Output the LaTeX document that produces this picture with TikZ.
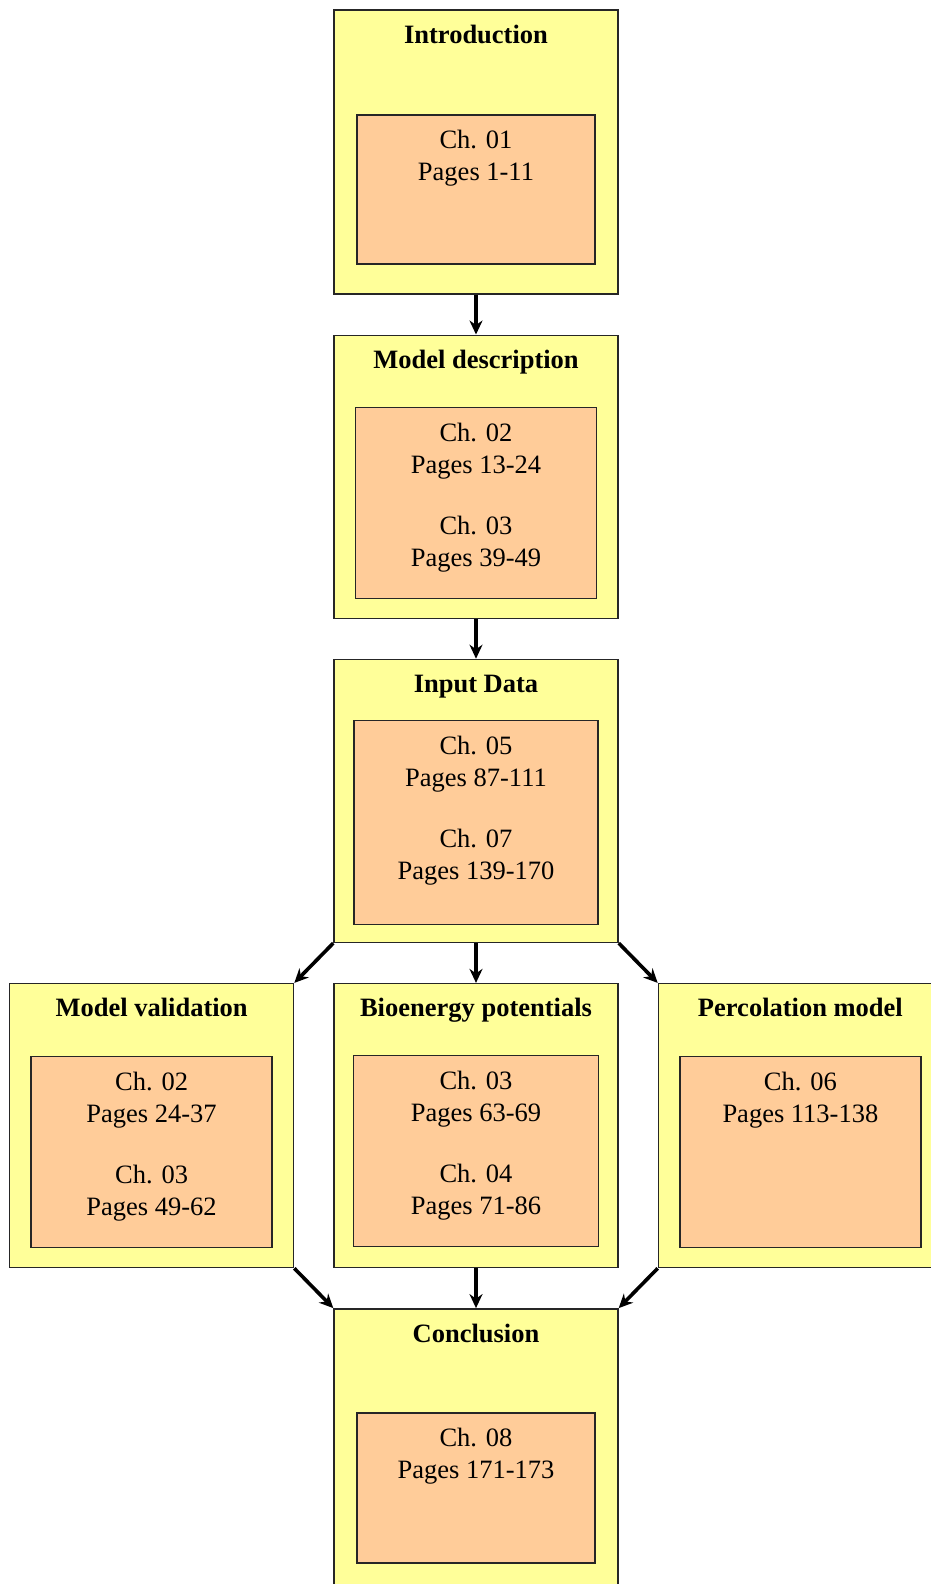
\documentclass[tikz,border=0pt]{standalone}
\usepackage{fontspec}
\setmainfont{Liberation Serif}
\usetikzlibrary{positioning, arrows.meta}
\definecolor{secyel}{RGB}{255,255,153}
\definecolor{chorange}{RGB}{255,204,153}
\tikzset{
  sect/.style={draw=black!85, fill=secyel, line width=1.4pt, inner sep=0pt,
               minimum width=284pt, minimum height=284pt},
  ttl/.style={font=\bfseries, inner sep=0pt, anchor=base},
  chap/.style={draw=black!85, fill=chorange, line width=1.4pt, inner sep=0pt,
               anchor=north},
  chtxt/.style={align=center, inner sep=0pt, anchor=north},
  flow/.style={-{Stealth[length=14pt, width=13pt]}, line width=3.6pt},
}

\begin{document}
\fontsize{26.5}{32}\selectfont
\begin{tikzpicture}[x=1pt, y=1pt, node distance=39.8pt]
        \useasboundingbox (0,0) rectangle (931,-1584);
        % sections
        \node[sect] (intro) at (476,-152) {};
        \node[sect, minimum height=283pt, below=of intro] (model) {};
        \node[sect, minimum height=283pt, below=of model] (input) {};
        \node[sect, below=of input] (bio) {};
        \node[sect, left=39pt of bio] (valid) {};
        \node[sect, right=39pt of bio] (perc) {};
        \node[sect, below=of bio] (concl) {};
        % titles
        \node[ttl] (intro-t) at ([yshift=-34pt]intro.north) {Introduction};
        \node[ttl] (model-t) at ([yshift=-34pt]model.north) {Model description};
        \node[ttl] (input-t) at ([yshift=-34pt]input.north) {Input Data};
        \node[ttl] (valid-t) at ([yshift=-34pt]valid.north) {Model validation};
        \node[ttl] (bio-t) at ([yshift=-34pt]bio.north) {Bioenergy potentials};
        \node[ttl] (perc-t) at ([yshift=-34pt]perc.north) {Percolation model};
        \node[ttl] (concl-t) at ([yshift=-34pt]concl.north) {Conclusion};
        % chapter boxes
        \node[chap, minimum width=238pt, minimum height=149pt] (intro-c) at ([yshift=-105pt]intro.north) {};
        \node[chap, minimum width=241pt, minimum height=191pt] (model-c) at ([yshift=-72pt]model.north) {};
        \node[chap, minimum width=244pt, minimum height=204pt] (input-c) at ([yshift=-61pt]input.north) {};
        \node[chap, minimum width=241pt, minimum height=191pt] (valid-c) at ([yshift=-73pt]valid.north) {};
        \node[chap, minimum width=245pt, minimum height=191pt] (bio-c) at ([yshift=-72pt]bio.north) {};
        \node[chap, minimum width=241pt, minimum height=191pt] (perc-c) at ([yshift=-73pt]perc.north) {};
        \node[chap, minimum width=238pt, minimum height=150pt] (concl-c) at ([yshift=-104pt]concl.north) {};
        % chapter texts
        \node[chtxt] (intro-x) at ([yshift=-16pt]intro-c.north) {Ch. 01\\Pages 1-11};
        \node[chtxt] (model-x) at ([yshift=-16pt]model-c.north) {Ch. 02\\Pages 13-24\\[29pt]Ch. 03\\Pages 39-49};
        \node[chtxt] (input-x) at ([yshift=-16pt]input-c.north) {Ch. 05\\Pages 87-111\\[29pt]Ch. 07\\Pages 139-170};
        \node[chtxt] (valid-x) at ([yshift=-16pt]valid-c.north) {Ch. 02\\Pages 24-37\\[29pt]Ch. 03\\Pages 49-62};
        \node[chtxt] (bio-x) at ([yshift=-16pt]bio-c.north) {Ch. 03\\Pages 63-69\\[29pt]Ch. 04\\Pages 71-86};
        \node[chtxt] (perc-x) at ([yshift=-16pt]perc-c.north) {Ch. 06\\Pages 113-138};
        \node[chtxt] (concl-x) at ([yshift=-16pt]concl-c.north) {Ch. 08\\Pages 171-173};
        % flow
        \draw[flow] (intro) -- (model);
        \draw[flow] (model) -- (input);
        \draw[flow] (input) -- (bio);
        \draw[flow] (input.south west) -- (valid.north east);
        \draw[flow] (input.south east) -- (perc.north west);
        \draw[flow] (valid.south east) -- (concl.north west);
        \draw[flow] (bio) -- (concl);
        \draw[flow] (perc.south west) -- (concl.north east);
      \end{tikzpicture}
\end{document}
